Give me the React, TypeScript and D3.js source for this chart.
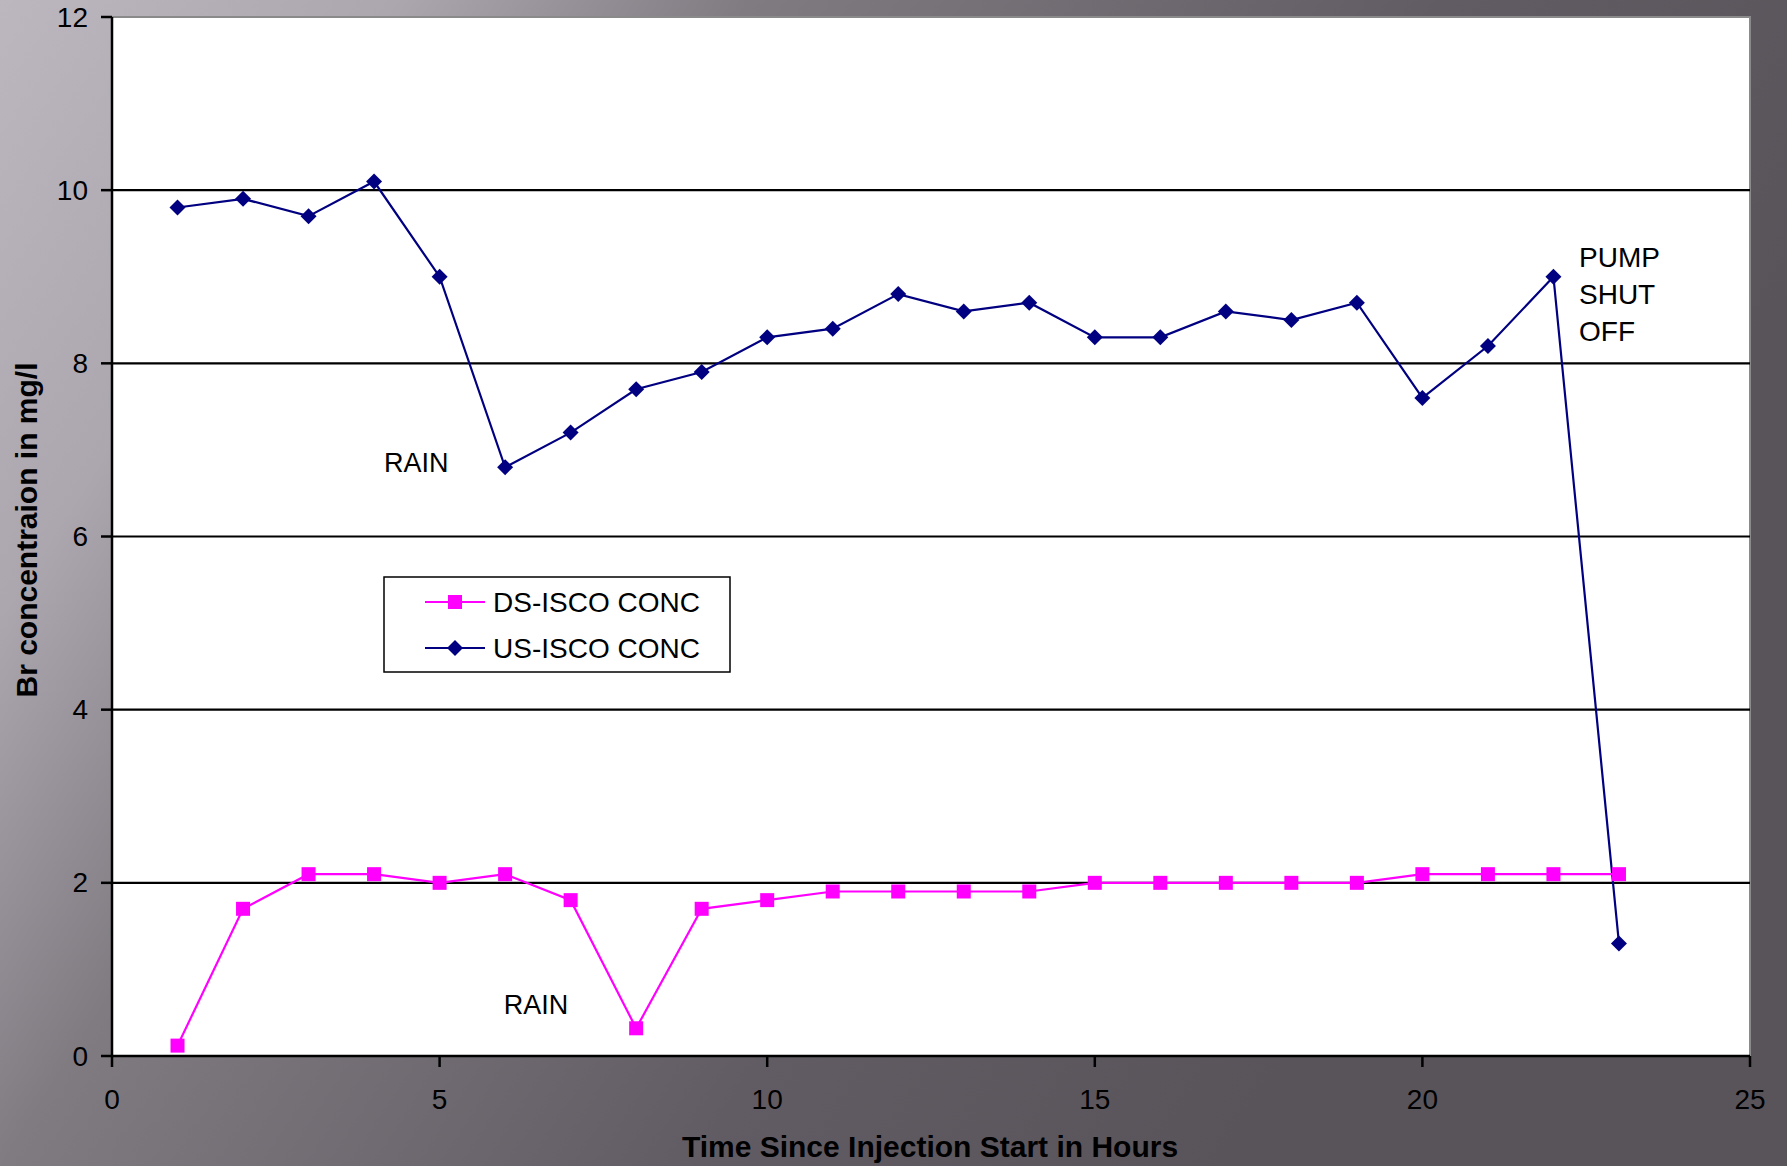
import React from "react";
import * as d3 from "d3";

const hours = [1, 2, 3, 4, 5, 6, 7, 8, 9, 10, 11, 12, 13, 14, 15, 16, 17, 18, 19, 20, 21, 22, 23];
const dsIsco = [0.12, 1.7, 2.1, 2.1, 2.0, 2.1, 1.8, 0.32, 1.7, 1.8, 1.9, 1.9, 1.9, 1.9, 2.0, 2.0, 2.0, 2.0, 2.0, 2.1, 2.1, 2.1, 2.1];
const usIsco = [9.8, 9.9, 9.7, 10.1, 9.0, 6.8, 7.2, 7.7, 7.9, 8.3, 8.4, 8.8, 8.6, 8.7, 8.3, 8.3, 8.6, 8.5, 8.7, 7.6, 8.2, 9.0, 1.3];
const xTicks = [0, 5, 10, 15, 20, 25];
const yTicks = [0, 2, 4, 6, 8, 10, 12];
const seriesNames = ["DS-ISCO CONC", "US-ISCO CONC"];
const annotations = [
  { text: "RAIN", x: 4.15, y: 6.75 },
  { text: "RAIN", x: 5.98, y: 0.49 },
];
const pumpLines = ["PUMP", "SHUT", "OFF"];

const W = 1787;
const H = 1166;
const L = 112, R = 1750, T = 17, B = 1056;

export default function App() {
  const x = d3.scaleLinear().domain([0, 25]).range([L, R]);
  const y = d3.scaleLinear().domain([0, 12]).range([B, T]);
  const line = d3.line<number>().x((_, i) => x(hours[i])).y((d) => y(d));
  const font = "'Liberation Sans', Arial, sans-serif";
  const diamond = (cx: number, cy: number, r = 8) =>
    `M${cx},${cy - r}L${cx + r},${cy}L${cx},${cy + r}L${cx - r},${cy}Z`;
  const sq = 14;

  return (
    <svg width={W} height={H} style={{ position: "absolute", left: 0, top: 0 }} fontFamily={font}>
      <defs>
        <linearGradient id="bg" gradientUnits="userSpaceOnUse" x1={0} y1={0} x2={1400} y2={900}>
          <stop offset="0" stopColor="#bcb6bf" />
          <stop offset="0.2" stopColor="#aca6af" />
          <stop offset="0.38" stopColor="#807b81" />
          <stop offset="0.73" stopColor="#615c63" />
          <stop offset="1" stopColor="#59545a" />
        </linearGradient>
      </defs>
      <rect x={0} y={0} width={W} height={H} fill="url(#bg)" />
      <rect x={L} y={T} width={R - L} height={B - T} fill="#ffffff" stroke="#8a8a8a" strokeWidth={2} />
      {yTicks.filter((t) => t > 0 && t < 12).map((t) => (
        <line key={t} x1={L} x2={R} y1={y(t)} y2={y(t)} stroke="#000" strokeWidth={2.2} />
      ))}
      <line x1={L} x2={L} y1={T} y2={B} stroke="#000" strokeWidth={2.5} />
      <line x1={L} x2={R} y1={B} y2={B} stroke="#000" strokeWidth={2.5} />
      {yTicks.map((t) => (
        <g key={t}>
          <line x1={L - 11} x2={L} y1={y(t)} y2={y(t)} stroke="#000" strokeWidth={2.5} />
          <text x={88} y={y(t)} textAnchor="end" dominantBaseline="central" fontSize={28} fill="#000">{t}</text>
        </g>
      ))}
      {xTicks.map((t) => (
        <g key={t}>
          <line x1={x(t)} x2={x(t)} y1={B} y2={B + 11} stroke="#000" strokeWidth={2.5} />
          <text x={x(t)} y={1109} textAnchor="middle" fontSize={28} fill="#000">{t}</text>
        </g>
      ))}
      <path d={line(usIsco) || ""} fill="none" stroke="#000080" strokeWidth={2.2} />
      <path d={line(dsIsco) || ""} fill="none" stroke="#ff00ff" strokeWidth={2.2} />
      {usIsco.map((v, i) => (
        <path key={"u" + i} d={diamond(x(hours[i]), y(v))} fill="#000080" />
      ))}
      {dsIsco.map((v, i) => (
        <rect key={"d" + i} x={x(hours[i]) - sq / 2} y={y(v) - sq / 2} width={sq} height={sq} fill="#ff00ff" />
      ))}
      {annotations.map((a, i) => (
        <text key={i} x={x(a.x)} y={y(a.y)} fontSize={27} fill="#000">{a.text}</text>
      ))}
      {pumpLines.map((s, i) => (
        <text key={s} x={1579} y={267 + i * 37} fontSize={28} fill="#000">{s}</text>
      ))}
      <rect x={384} y={577} width={346} height={95} fill="#fff" stroke="#000" strokeWidth={1.5} />
      <line x1={425} x2={485} y1={602} y2={602} stroke="#ff00ff" strokeWidth={2.2} />
      <rect x={455 - sq / 2} y={602 - sq / 2} width={sq} height={sq} fill="#ff00ff" />
      <text x={493} y={602} dominantBaseline="central" fontSize={28} fill="#000">{seriesNames[0]}</text>
      <line x1={425} x2={485} y1={648} y2={648} stroke="#000080" strokeWidth={2.2} />
      <path d={diamond(455, 648)} fill="#000080" />
      <text x={493} y={648} dominantBaseline="central" fontSize={28} fill="#000">{seriesNames[1]}</text>
      <text x={930} y={1157} textAnchor="middle" fontSize={30} fontWeight="bold" fill="#000">
        Time Since Injection Start in Hours
      </text>
      <text transform="translate(26,530) rotate(-90)" textAnchor="middle" dominantBaseline="central" fontSize={30} fontWeight="bold" fill="#000">
        Br concentraion in mg/l
      </text>
    </svg>
  );
}
